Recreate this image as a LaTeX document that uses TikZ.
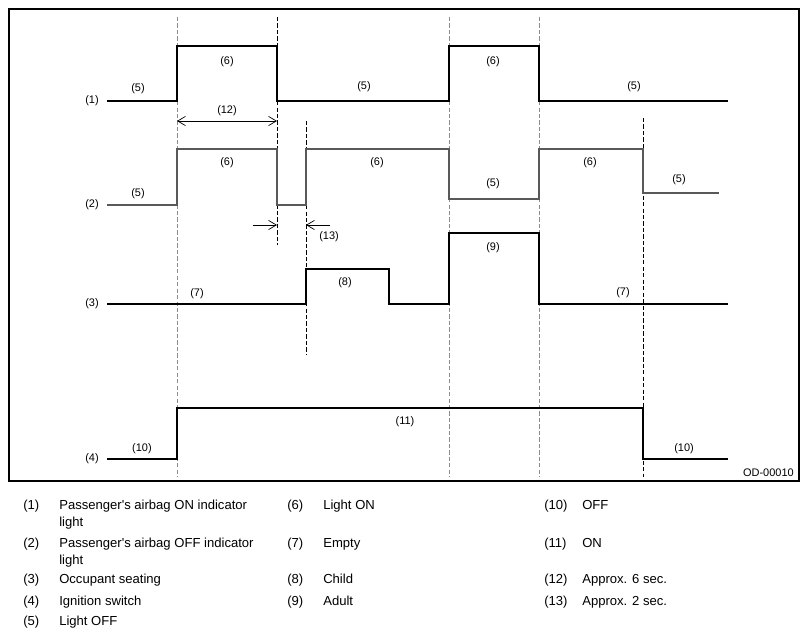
\documentclass[tikz,border=0pt]{standalone}
\usepackage{fontspec}
\setmainfont{Liberation Sans}
\usepackage{tkz-euclide}
\usetikzlibrary{arrows.meta}

\tikzset{
  sig/.style = {line width = 1.6pt, line join = miter},
  sigthin/.style = {line width = 0.85pt, black!65, line join = miter},
  guide/.style = {line width = 0.7pt, dash pattern = on 3pt off 1.6pt},
  guidegray/.style = {guide, black!45},
  dimline/.style = {line width = 0.5pt, arrows = {-Straight Barb[length = 5.5pt, width = 6.5pt]}},
  lab/.style = {inner sep = 0pt, font = \fontsize{7.8}{9}\selectfont},
  leg/.style = {inner sep = 0pt, anchor = base west, font = \fontsize{9.3}{11}\selectfont}
}

\begin{document}
\begin{tikzpicture}[x = 0.25mm, y = -0.25mm]
\useasboundingbox (0,0) rectangle (808,638);
\draw [line width = 0.75pt] (9,9) rectangle (799,481);
% guides
\tkzDefPoints{177/17/Ga, 177/477/Gb, 277/17/Ha, 277/245/Hb, 306/121/Ka, 306/355/Kb}
\tkzDefPoints{449/17/La, 449/477/Lb, 539/17/Ma, 539/477/Mb, 643/118/Na, 643/477/Nb}
\draw [guidegray] (Ga) -- (Gb);
\draw [guidegray] (La) -- (Lb);
\draw [guidegray] (Ma) -- (Mb);
\draw [guide] (Ha) -- (Hb);
\draw [guide] (Ka) -- (Kb);
\draw [guide] (Na) -- (Nb);
% signals
\draw [sig] (107,101) -- (177,101) -- (177,46) -- (277,46) -- (277,101) -- (449,101) -- (449,46) -- (539,46) -- (539,101) -- (728,101);
\draw [sigthin] (107,205) -- (177,205) -- (177,149) -- (277,149) -- (277,205) -- (306,205) -- (306,149) -- (449,149) -- (449,199) -- (539,199) -- (539,149) -- (643,149) -- (643,193) -- (719,193);
\draw [sig] (107,304) -- (306,304) -- (306,269) -- (389,269) -- (389,304) -- (449,304) -- (449,233) -- (539,233) -- (539,304) -- (728,304);
\draw [sig] (107,459) -- (177,459) -- (177,408) -- (643,408) -- (643,459) -- (728,459);
% time marks
\tkzDefPoints{177/121/P, 277/121/Q, 253/225/R, 277/225/S, 330/225/T, 306/225/U}
\draw [dimline, {Straight Barb[length = 5.5pt, width = 6.5pt]}-{Straight Barb[length = 5.5pt, width = 6.5pt]}] (P) -- (Q);
\draw [dimline] (R) -- (S);
\draw [dimline] (T) -- (U);
% row labels
\node [lab] (r1) at (92,101) {(1)};
\node [lab] (r2) at (92,205) {(2)};
\node [lab] (r3) at (92,304) {(3)};
\node [lab] (r4) at (92,459) {(4)};
\node [lab] (a1) at (138,89) {(5)};
\node [lab] (a2) at (227,62) {(6)};
\node [lab] (a3) at (364,87) {(5)};
\node [lab] (a4) at (493,62) {(6)};
\node [lab] (a5) at (634,87) {(5)};
\node [lab] (t12) at (227,111) {(12)};
\node [lab] (b1) at (138,194) {(5)};
\node [lab] (b2) at (227,163) {(6)};
\node [lab] (b3) at (377,163) {(6)};
\node [lab] (b4) at (493,184) {(5)};
\node [lab] (b5) at (590,163) {(6)};
\node [lab] (b6) at (679,180) {(5)};
\node [lab] (t13) at (329,237) {(13)};
\node [lab] (c1) at (197,294) {(7)};
\node [lab] (c2) at (345,283) {(8)};
\node [lab] (c3) at (493,248) {(9)};
\node [lab] (c4) at (623,293) {(7)};
\node [lab] (d1) at (142,449) {(10)};
\node [lab] (d2) at (405,422) {(11)};
\node [lab] (d3) at (684,449) {(10)};
\node [lab, anchor = east] (code) at (794,473) {OD-00010};
% legend
\node [leg] (n1) at (23,509) {(1)};
\node [leg] (e1) at (59,509) {Passenger\textquotesingle s airbag ON indicator};
\node [leg] (e1b) at (59,526) {light};
\node [leg] (n2) at (23,547) {(2)};
\node [leg] (e2) at (59,547) {Passenger\textquotesingle s airbag OFF indicator};
\node [leg] (e2b) at (59,564) {light};
\node [leg] (n3) at (23,583) {(3)};
\node [leg] (e3) at (59,583) {Occupant seating};
\node [leg] (n4) at (23,605) {(4)};
\node [leg] (e4) at (59,605) {Ignition switch};
\node [leg] (n5) at (23,625) {(5)};
\node [leg] (e5) at (59,625) {Light OFF};
\node [leg] (n6) at (287,509) {(6)};
\node [leg] (e6) at (323,509) {Light ON};
\node [leg] (n7) at (287,547) {(7)};
\node [leg] (e7) at (323,547) {Empty};
\node [leg] (n8) at (287,583) {(8)};
\node [leg] (e8) at (323,583) {Child};
\node [leg] (n9) at (287,605) {(9)};
\node [leg] (e9) at (323,605) {Adult};
\node [leg] (n10) at (544,509) {(10)};
\node [leg] (e10) at (582,509) {OFF};
\node [leg] (n11) at (544,547) {(11)};
\node [leg] (e11) at (582,547) {ON};
\node [leg] (n12) at (544,583) {(12)};
\node [leg] (e12) at (582,583) {Approx. 6 sec.};
\node [leg] (n13) at (544,605) {(13)};
\node [leg] (e13) at (582,605) {Approx. 2 sec.};
\end{tikzpicture}
\end{document}
